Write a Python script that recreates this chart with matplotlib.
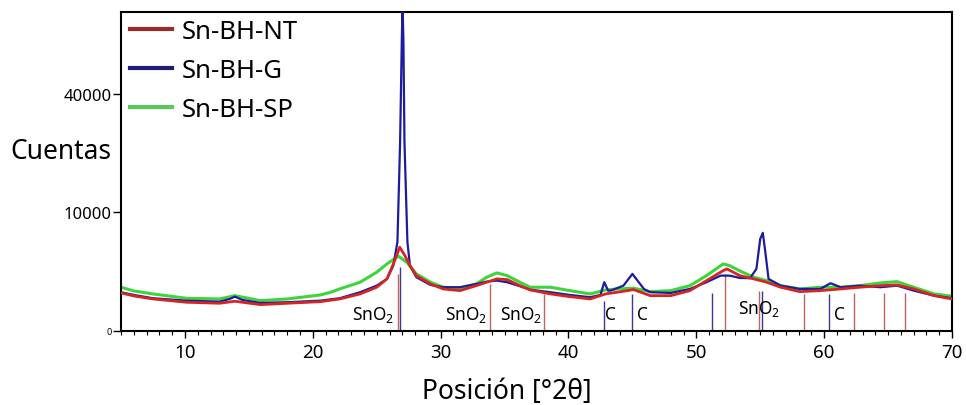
#!/usr/bin/env python
import numpy as np
import matplotlib
matplotlib.use("Agg")
import matplotlib.pyplot as plt
from matplotlib.lines import Line2D
import matplotlib.transforms as mtransforms

plt.rcParams['font.family'] = ['Noto Sans', 'DejaVu Sans']

# Sn-BH-NT (red)
x_nt = [5.0, 6.0, 7.5, 10.1, 12.7, 13.9, 15.9, 18.0, 20.6, 22.1, 23.7, 25.0, 25.8,
        26.3, 26.8, 27.2, 27.6, 28.1, 29.2, 30.2, 31.5, 32.8, 33.6, 34.4, 35.2,
        36.2, 37.0, 38.6, 40.1, 41.7, 42.9, 43.8, 45.1, 46.4, 48.0, 49.5, 50.8,
        52.1, 52.4, 53.4, 54.5, 55.5, 56.6, 58.1, 59.7, 61.3, 62.8, 64.4, 65.7,
        67.0, 68.6, 70.0]
y_nt = [1028, 872, 729, 587, 546, 628, 493, 546, 611, 729, 975, 1360, 1926,
        3197, 4989, 4038, 3037, 2178, 1573, 1256, 1157, 1461, 1689, 1926, 1874,
        1461, 1197, 975, 838, 729, 975, 1067, 1215, 887, 887, 1157, 1802,
        2589, 2737, 2178, 1926, 1689, 1360, 1100, 1157, 1256, 1360, 1461, 1507,
        1256, 887, 729]

# Sn-BH-G (blue)
x_g = [5.0, 6.0, 7.5, 10.1, 12.7, 13.5, 13.9, 14.5, 15.9, 18.0, 20.6, 22.1, 23.7,
       25.0, 25.8, 26.3, 26.62, 26.83, 26.96, 27.02, 27.09, 27.17, 27.40, 27.6,
       28.1, 29.2, 30.2, 31.5, 32.8, 33.6, 34.4, 35.2, 36.2, 37.0, 38.6, 40.1,
       41.7, 42.5, 42.8, 43.1, 43.3, 44.3, 45.0, 45.9, 46.4, 48.0, 49.5, 50.8,
       51.9, 52.6, 53.4, 54.2, 54.7, 55.0, 55.2, 55.4, 55.65, 56.6, 58.1, 59.7,
       60.5, 61.3, 62.8, 64.4, 65.7, 67.0, 68.6, 70.0]
y_g = [1067, 923, 761, 654, 611, 729, 838, 684, 558, 587, 654, 761, 1067,
       1461, 1926, 3037, 5641, 25440, 59480, 76000, 59480, 25440, 5641, 3037,
       2054, 1507, 1360, 1360, 1573, 1731, 1802, 1689, 1423, 1215, 1067, 923,
       809, 923, 1689, 1157, 1157, 1461, 2314, 1256, 1067, 1028, 1256, 1689,
       2178, 2178, 2000, 1978, 2737, 6027, 6840, 4411, 1926, 1461, 1256, 1256,
       1620, 1360, 1461, 1360, 1461, 1157, 887, 761]

# Sn-BH-SP (green)
x_sp = [5.0, 6.0, 7.5, 10.1, 12.7, 13.9, 15.9, 18.0, 20.6, 21.4, 22.1, 23.7, 25.0,
        25.8, 26.7, 27.35, 28.1, 29.2, 30.2, 31.5, 32.8, 33.6, 34.4, 35.2, 36.2,
        37.0, 38.6, 40.1, 41.7, 42.9, 43.8, 45.1, 46.4, 48.0, 49.5, 50.8, 52.1,
        52.6, 53.4, 54.5, 55.5, 56.6, 58.1, 59.7, 61.3, 62.8, 64.4, 65.7, 67.0,
        68.6, 70.0]
y_sp = [1360, 1139, 975, 761, 729, 887, 654, 729, 923, 1067, 1256, 1689, 2454,
        3197, 3974, 3361, 2314, 1689, 1360, 1298, 1573, 2054, 2396, 2178, 1689,
        1360, 1360, 1157, 975, 1197, 1256, 1298, 1100, 1157, 1461, 2178, 3197,
        3037, 2564, 2054, 1802, 1461, 1256, 1360, 1360, 1461, 1641, 1731, 1360,
        975, 858]

# reference sticks
sno2_pos = [26.65, 33.87, 38.1, 52.26, 54.9, 58.4, 62.3, 64.7, 66.3]
sno2_int = [2314, 1573, 975, 2300, 1140, 975, 1028, 1028, 1028]
c_pos = [26.86, 42.8, 45.0, 51.2, 55.1, 60.4]
c_int = [2917, 641, 975, 1028, 1140, 975]

# phase labels: text, x
phase_labels = [("SnO$_\\mathregular{2}$", 24.7), ("SnO$_\\mathregular{2}$", 32.0),
                ("SnO$_\\mathregular{2}$", 36.3), ("C", 43.3), ("C", 45.8),
                ("SnO$_\\mathregular{2}$", 54.9), ("C", 61.2)]
label_ypos = [0.053, 0.053, 0.053, 0.053, 0.053, 0.072, 0.053]

series_names = ["Sn-BH-NT", "Sn-BH-G", "Sn-BH-SP"]
line_colors = ["#d42424", "#1c1c9c", "#3cd63c"]
legend_colors = ["#9a2a2a", "#1e1e78", "#5ac85a"]


def fwd(y):
    return np.sqrt(np.clip(y, 0, None))


def inv(y):
    return np.asarray(y) ** 2


fig = plt.figure(figsize=(9.66, 4.06), dpi=100)
ax = fig.add_axes([0.1253, 0.1823, 0.8602, 0.7869])

ax.vlines(sno2_pos, 0, sno2_int, colors="#c06262", lw=1.0, zorder=1)
ax.vlines(c_pos, 0, c_int, colors="#3a3a96", lw=1.0, zorder=1)

ax.plot(x_sp, y_sp, color=line_colors[2], lw=2.2, zorder=2)
ax.plot(x_g, y_g, color=line_colors[1], lw=1.6, zorder=3)
ax.plot(x_nt, y_nt, color=line_colors[0], lw=2.0, zorder=4)

ax.set_yscale('function', functions=(fwd, inv))
ax.set_xlim(5, 70)
ax.set_ylim(0, 72500)

trans = mtransforms.blended_transform_factory(ax.transData, ax.transAxes)
for (t, xp), yp in zip(phase_labels, label_ypos):
    ax.text(xp, yp, t, transform=trans, ha='center', va='center', fontsize=12.5)

ax.set_xticks([10, 20, 30, 40, 50, 60, 70])
ax.set_xticks(np.arange(5, 71, 1), minor=True)
ax.set_yticks([0, 10000, 40000])
ax.set_yticklabels(['0', '10000', '40000'])
ax.tick_params(axis='x', which='major', length=5, width=1, labelsize=13.5, pad=4)
ax.tick_params(axis='x', which='minor', length=3, width=0.8)
ax.tick_params(axis='y', which='major', length=6, width=1, labelsize=12, pad=1)
ax.get_yticklabels()[0].set_fontsize(6.5)
for sp in ax.spines.values():
    sp.set_linewidth(1.5)

ax.set_xlabel("Posición [°2θ]", fontsize=19)
ax.xaxis.set_label_coords((507 - 121) / 831.0, -0.145)
fig.text(10 / 966.0, 1 - 152 / 406.0, "Cuentas", fontsize=19, ha='left', va='center')

handles = [Line2D([0], [0], color=c, lw=3) for c in legend_colors]
ax.legend(handles, series_names, loc='upper left', bbox_to_anchor=(0.006, 0.99),
          frameon=False, fontsize=18.5, handlelength=1.65, handletextpad=0.35,
          labelspacing=0.55, borderpad=0.15, borderaxespad=0.0)

fig.savefig("out.png", dpi=100)
